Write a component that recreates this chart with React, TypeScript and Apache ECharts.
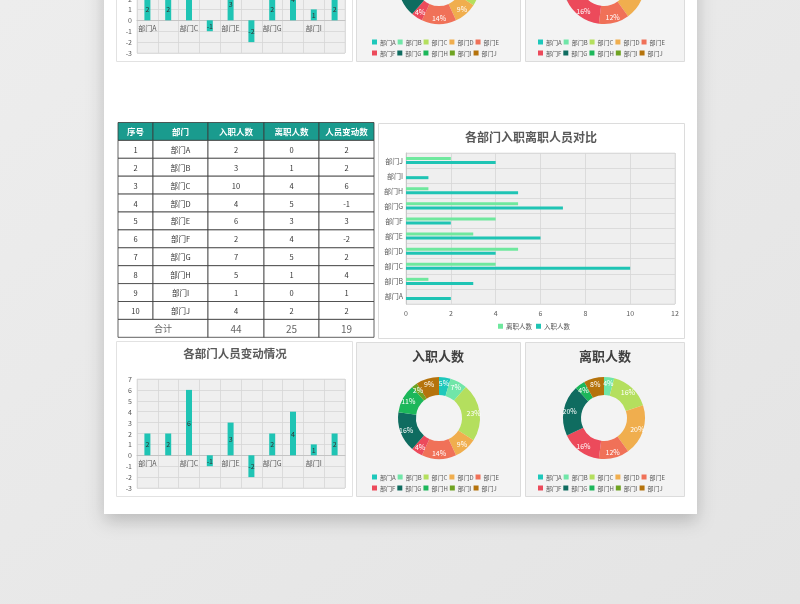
import React, { useEffect, useRef } from "react";
import * as echarts from "echarts";

// ---------- data ----------
const departments = ["部门A", "部门B", "部门C", "部门D", "部门E", "部门F", "部门G", "部门H", "部门I", "部门J"];
const hires = [2, 3, 10, 4, 6, 2, 7, 5, 1, 4];
const leaves = [0, 1, 4, 5, 3, 4, 5, 1, 0, 2];
const changes = [2, 2, 6, -1, 3, -2, 2, 4, 1, 2];
const changeAxisRange = [-3, 7];
const tableHeaders = ["序号", "部门", "入职人数", "离职人数", "人员变动数"];
const totalLabel = "合计";
const totals = [44, 25, 19];
const compareSeriesNames = ["离职人数", "入职人数"];
const hbarTitle = "各部门入职离职人员对比";
const vbarTitle = "各部门人员变动情况";
const pieTitles = ["入职人数", "离职人数"];
const sliceColors = ["#1ec8bb", "#70e6a8", "#b4df5e", "#f0ae4e", "#f07158", "#ec4a5b", "#0f6c60", "#1cb75a", "#6fa322", "#b5730c"];

// ---------- styling / layout ----------
const FONT = "'Noto Sans CJK SC', 'Noto Sans', sans-serif";
const TEAL = "#1fc4b4";
const MINT = "#6fe89e";
const SHIFT = 435;
const AXIS_TXT = "#595959";
const VBAR_H = 109;

function rect(x: number, y: number, w: number, h: number, style: any, z = -5) {
  return { type: "rect", silent: true, z, shape: { x, y, width: w, height: h }, style };
}
function text(x: number, y: number, t: string, size: number, color: string, weight = "normal", z = 3) {
  return {
    type: "text", silent: true, z, x, y,
    style: { text: t, fontSize: size, fontFamily: FONT, fontWeight: weight, fill: color, align: "center", verticalAlign: "middle" },
  };
}

function buildGraphics() {
  const g: any[] = [];
  g.push(rect(0, 0, 800, 604, {
    fill: new echarts.graphic.LinearGradient(0, 0, 1, 1, [
      { offset: 0, color: "#ededed" }, { offset: 1, color: "#e4e4e4" },
    ]),
  }, -30));
  g.push(rect(104, -40, 593, 554, { fill: "#ffffff", shadowBlur: 18, shadowColor: "rgba(0,0,0,0.2)", shadowOffsetY: 7 }, -29));

  for (const dy of [0, -SHIFT]) {
    g.push(rect(116.5, 341.5 + dy, 236, 155, { fill: "#ffffff", stroke: "#e2e2e2", lineWidth: 1 }, -10));
    g.push(rect(356.5, 342.5 + dy, 164, 154, { fill: "#f3f3f3", stroke: "#dcdcdc", lineWidth: 1 }, -10));
    g.push(rect(525.5, 342.5 + dy, 159, 154, { fill: "#f3f3f3", stroke: "#dcdcdc", lineWidth: 1 }, -10));
    g.push(text(235, 353 + dy, vbarTitle, 11.5, "#595959", "bold"));
    g.push(text(438, 355 + dy, pieTitles[0], 13, "#404040", "bold"));
    g.push(text(605, 355 + dy, pieTitles[1], 13, "#404040", "bold"));
  }
  g.push(rect(378.5, 123.5, 306, 215, { fill: "#ffffff", stroke: "#dcdcdc", lineWidth: 1 }, -10));
  g.push(text(531, 136, hbarTitle, 12, "#595959", "bold"));

  // table
  const colX = [118, 153, 208, 264, 319, 374];
  const top = 122.5;
  const rh = 17.9;
  const border = { stroke: "#3a3a3a", lineWidth: 0.8 };
  tableHeaders.forEach((h, c) => {
    g.push(rect(colX[c], top, colX[c + 1] - colX[c], rh, { fill: "#1a9b8e", ...border }, 1));
    g.push(text((colX[c] + colX[c + 1]) / 2, top + rh / 2, h, 8.5, "#ffffff", "bold"));
  });
  departments.forEach((d, i) => {
    const y = top + (i + 1) * rh;
    const vals = [String(i + 1), d, String(hires[i]), String(leaves[i]), String(changes[i])];
    vals.forEach((v, c) => {
      g.push(rect(colX[c], y, colX[c + 1] - colX[c], rh, { fill: "#ffffff", ...border }, 1));
      g.push(text((colX[c] + colX[c + 1]) / 2, y + rh / 2, v, 7.5, "#333333"));
    });
  });
  const ty = top + 11 * rh;
  g.push(rect(colX[0], ty, colX[2] - colX[0], rh, { fill: "#ffffff", ...border }, 1));
  g.push(text((colX[0] + colX[2]) / 2, ty + rh / 2, totalLabel, 9, "#666666"));
  totals.forEach((t, k) => {
    const c = k + 2;
    g.push(rect(colX[c], ty, colX[c + 1] - colX[c], rh, { fill: "#ffffff", ...border }, 1));
    g.push(text((colX[c] + colX[c + 1]) / 2, ty + rh / 2, String(t), 10, "#666666"));
  });
  return g;
}

function buildOption(): any {
  const gridBase = { show: true, backgroundColor: "#efefef", borderColor: "#d8d8d8", borderWidth: 0.6, containLabel: false, outerBoundsMode: "none" };
  const grids = [
    { ...gridBase, left: 406, top: 153, width: 269, height: 151 },
    { ...gridBase, left: 137, top: 379, width: 208, height: VBAR_H },
    { ...gridBase, left: 137, top: 379 - SHIFT, width: 208, height: VBAR_H },
  ];
  const lbl = { fontSize: 7, color: AXIS_TXT, fontFamily: FONT };
  const split = { show: true, lineStyle: { color: "#d6d6d6", width: 0.8 } };
  // move the category axis up to the zero line of the value axis
  const zeroOffset = -VBAR_H * (0 - changeAxisRange[0]) / (changeAxisRange[1] - changeAxisRange[0]);

  const vX = (gi: number) => ({
    type: "category", gridIndex: gi, data: departments, position: "bottom", offset: zeroOffset,
    axisLine: { show: true, onZero: false, lineStyle: { color: "#c4c4c4" } },
    axisTick: { show: false },
    axisLabel: { ...lbl, interval: 1, margin: 4 },
    splitLine: { ...split, interval: 0 },
  });
  const vY = (gi: number) => ({
    type: "value", gridIndex: gi, min: changeAxisRange[0], max: changeAxisRange[1], interval: 1,
    axisLine: { show: false }, axisTick: { show: false },
    axisLabel: { ...lbl, margin: 5 }, splitLine: split,
  });
  const vSeries = (gi: number) => ({
    type: "bar", xAxisIndex: gi, yAxisIndex: gi, data: changes, barWidth: 6,
    itemStyle: { color: TEAL },
    label: { show: true, position: "inside", fontSize: 7, color: "#333333", fontFamily: FONT },
    silent: true,
  });

  const pieCenters = [[439, 418], [604, 418]];
  const pieData = [hires, leaves];
  const pies: any[] = [];
  const legends: any[] = [
    {
      data: compareSeriesNames, left: 498, top: 323, padding: 0, itemWidth: 5, itemHeight: 5, itemGap: 4,
      icon: "rect", selectedMode: false, textStyle: { fontSize: 6.5, color: AXIS_TXT, fontFamily: FONT, padding: [0, 0, 0, -2] },
    },
  ];
  const legendLefts = [372, 538];
  for (const dy of [0, -SHIFT]) {
    pieCenters.forEach((c, p) => {
      pies.push({
        type: "pie", center: [c[0], c[1] + dy], radius: [23, 41], startAngle: 90, clockwise: true,
        percentPrecision: 0, avoidLabelOverlap: false, silent: true,
        data: departments.map((n, i) => ({ name: n, value: pieData[p][i] })),
        label: { show: true, position: "inside", formatter: "{d}%", fontSize: 7, color: "#ffffff", fontFamily: FONT },
        labelLine: { show: false },
        itemStyle: { borderWidth: 0 },
      });
      [0, 1].forEach((row) => {
        legends.push({
          data: departments.slice(row * 5, row * 5 + 5), left: legendLefts[p], top: 474 + row * 11 + dy,
          padding: 0, itemWidth: 5, itemHeight: 5, itemGap: 2, icon: "rect", selectedMode: false,
          textStyle: { fontSize: 6, color: AXIS_TXT, fontFamily: FONT, padding: [0, 0, 0, -2] },
        });
      });
    });
  }

  return {
    animation: false,
    color: sliceColors,
    textStyle: { fontFamily: FONT },
    graphic: { elements: buildGraphics() },
    grid: grids,
    xAxis: [
      {
        type: "value", gridIndex: 0, min: 0, max: 12, interval: 2,
        axisLine: { show: false }, axisTick: { show: false },
        axisLabel: { ...lbl, margin: 5 }, splitLine: split,
      },
      vX(1), vX(2),
    ],
    yAxis: [
      {
        type: "category", gridIndex: 0, data: departments,
        axisLine: { show: true, lineStyle: { color: "#c8c8c8" } }, axisTick: { show: false },
        axisLabel: { ...lbl, margin: 3 }, splitLine: { ...split, interval: 0 },
      },
      vY(1), vY(2),
    ],
    legend: legends,
    series: [
      { type: "bar", name: compareSeriesNames[0], xAxisIndex: 0, yAxisIndex: 0, data: leaves, barWidth: 3, barGap: "35%", itemStyle: { color: MINT }, silent: true },
      { type: "bar", name: compareSeriesNames[1], xAxisIndex: 0, yAxisIndex: 0, data: hires, barWidth: 3, barGap: "35%", itemStyle: { color: TEAL }, silent: true },
      vSeries(1), vSeries(2),
      ...pies,
    ],
  };
}

export default function App() {
  const ref = useRef<HTMLDivElement>(null);
  useEffect(() => {
    const chart = echarts.init(ref.current!, null, { renderer: "svg" });
    chart.setOption(buildOption());
    return () => chart.dispose();
  }, []);
  return <div ref={ref} style={{ position: "fixed", left: 0, top: 0, width: 800, height: 604 }} />;
}
